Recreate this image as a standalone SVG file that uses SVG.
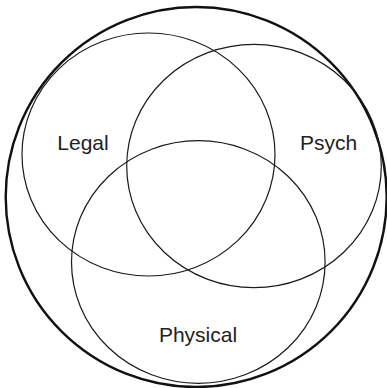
<svg xmlns="http://www.w3.org/2000/svg" width="387" height="388" viewBox="0 0 387 388">
<style>
.set{fill:none;stroke:#1a1a1a;stroke-width:1.2}
.outer{fill:none;stroke:#111;stroke-width:2.4}
.lbl{font-family:"Liberation Sans",Arial,sans-serif;font-size:21px;fill:#222;text-anchor:middle}
</style>
<rect width="387" height="388" fill="#fff"/>
<g id="universe"><ellipse class="outer" cx="196.2" cy="197" rx="190.5" ry="190"/></g>
<g id="legal"><ellipse class="set" cx="148.5" cy="154.5" rx="126.5" ry="121.5"/><text class="lbl" x="83" y="150">Legal</text></g>
<g id="psych"><ellipse class="set" cx="254" cy="166" rx="127.3" ry="121.7"/><text class="lbl" x="328.5" y="150">Psych</text></g>
<g id="physical"><ellipse class="set" cx="198.3" cy="262" rx="126.8" ry="121.3"/><text class="lbl" x="198" y="342">Physical</text></g>
<g id="connectors"></g>
</svg>
